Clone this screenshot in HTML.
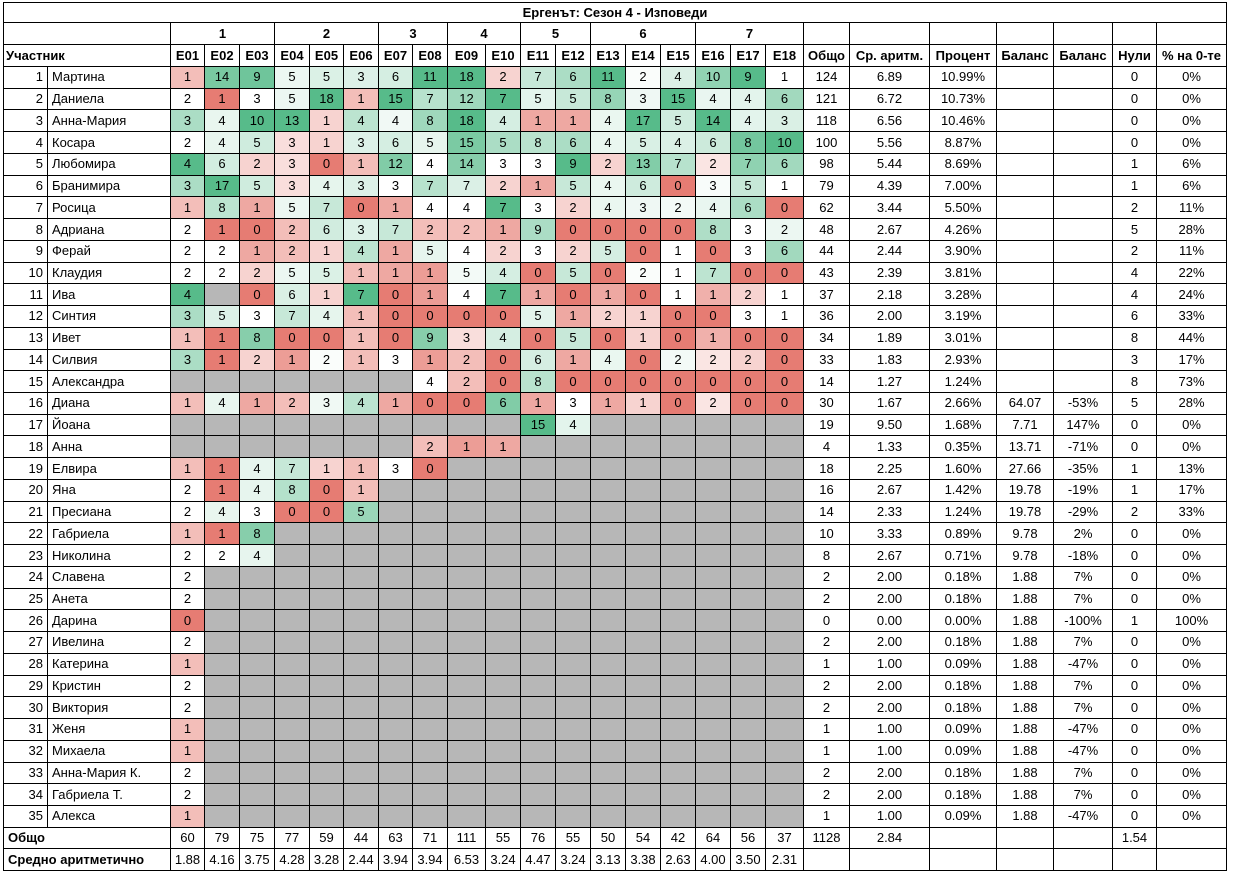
<!DOCTYPE html>
<html><head><meta charset="utf-8"><style>
body{margin:0;background:#fff;width:1235px;height:876px;overflow:hidden}
table{position:absolute;left:3px;top:2px;border-collapse:collapse;table-layout:fixed;font-family:"Liberation Sans",Arial,sans-serif;font-size:13px;color:#000}
td{border:1px solid #000;padding:0;text-align:center;white-space:nowrap;overflow:hidden;line-height:14px}
tr{height:21.74px}
.h td{font-weight:bold}
.g{background:#b7b7b7}
td.n{text-align:right;padding-right:4px;border-right:1px solid #000}
td.nm{text-align:left;padding-left:4px}
td.l{text-align:left;padding-left:4px;font-weight:bold}
</style></head><body>
<table>
<colgroup><col style="width:44px"><col style="width:123px"><col style="width:34px"><col style="width:35px"><col style="width:35px"><col style="width:35px"><col style="width:34px"><col style="width:35px"><col style="width:34px"><col style="width:35px"><col style="width:38px"><col style="width:35px"><col style="width:35px"><col style="width:35px"><col style="width:35px"><col style="width:35px"><col style="width:35px"><col style="width:35px"><col style="width:35px"><col style="width:38px"><col style="width:46px"><col style="width:80px"><col style="width:67px"><col style="width:57px"><col style="width:59px"><col style="width:44px"><col style="width:70px"></colgroup>
<tr class="h" style="height:20px"><td colspan="27">Ергенът: Сезон 4 - Изповеди</td></tr>
<tr class="h" style="height:22px"><td colspan="2"></td><td colspan="3">1</td><td colspan="3">2</td><td colspan="2">3</td><td colspan="2">4</td><td colspan="2">5</td><td colspan="3">6</td><td colspan="3">7</td><td></td><td></td><td></td><td></td><td></td><td></td><td></td></tr>
<tr class="h" style="height:22px"><td colspan="2" style="text-align:left;padding-left:2px">Участник</td><td>E01</td><td>E02</td><td>E03</td><td>E04</td><td>E05</td><td>E06</td><td>E07</td><td>E08</td><td>E09</td><td>E10</td><td>E11</td><td>E12</td><td>E13</td><td>E14</td><td>E15</td><td>E16</td><td>E17</td><td>E18</td><td>Общо</td><td>Ср. аритм.</td><td>Процент</td><td>Баланс</td><td>Баланс</td><td>Нули</td><td>% на 0-те</td></tr>
<tr class="d"><td class="n">1</td><td class="nm">Мартина</td><td>1</td><td>14</td><td>9</td><td>5</td><td>5</td><td>3</td><td>6</td><td>11</td><td>18</td><td>2</td><td>7</td><td>6</td><td>11</td><td>2</td><td>4</td><td>10</td><td>9</td><td>1</td><td>124</td><td>6.89</td><td>10.99%</td><td></td><td></td><td>0</td><td>0%</td></tr>
<tr class="d"><td class="n">2</td><td class="nm">Даниела</td><td>2</td><td>1</td><td>3</td><td>5</td><td>18</td><td>1</td><td>15</td><td>7</td><td>12</td><td>7</td><td>5</td><td>5</td><td>8</td><td>3</td><td>15</td><td>4</td><td>4</td><td>6</td><td>121</td><td>6.72</td><td>10.73%</td><td></td><td></td><td>0</td><td>0%</td></tr>
<tr class="d"><td class="n">3</td><td class="nm">Анна-Мария</td><td>3</td><td>4</td><td>10</td><td>13</td><td>1</td><td>4</td><td>4</td><td>8</td><td>18</td><td>4</td><td>1</td><td>1</td><td>4</td><td>17</td><td>5</td><td>14</td><td>4</td><td>3</td><td>118</td><td>6.56</td><td>10.46%</td><td></td><td></td><td>0</td><td>0%</td></tr>
<tr class="d"><td class="n">4</td><td class="nm">Косара</td><td>2</td><td>4</td><td>5</td><td>3</td><td>1</td><td>3</td><td>6</td><td>5</td><td>15</td><td>5</td><td>8</td><td>6</td><td>4</td><td>5</td><td>4</td><td>6</td><td>8</td><td>10</td><td>100</td><td>5.56</td><td>8.87%</td><td></td><td></td><td>0</td><td>0%</td></tr>
<tr class="d"><td class="n">5</td><td class="nm">Любомира</td><td>4</td><td>6</td><td>2</td><td>3</td><td>0</td><td>1</td><td>12</td><td>4</td><td>14</td><td>3</td><td>3</td><td>9</td><td>2</td><td>13</td><td>7</td><td>2</td><td>7</td><td>6</td><td>98</td><td>5.44</td><td>8.69%</td><td></td><td></td><td>1</td><td>6%</td></tr>
<tr class="d"><td class="n">6</td><td class="nm">Бранимира</td><td>3</td><td>17</td><td>5</td><td>3</td><td>4</td><td>3</td><td>3</td><td>7</td><td>7</td><td>2</td><td>1</td><td>5</td><td>4</td><td>6</td><td>0</td><td>3</td><td>5</td><td>1</td><td>79</td><td>4.39</td><td>7.00%</td><td></td><td></td><td>1</td><td>6%</td></tr>
<tr class="d"><td class="n">7</td><td class="nm">Росица</td><td>1</td><td>8</td><td>1</td><td>5</td><td>7</td><td>0</td><td>1</td><td>4</td><td>4</td><td>7</td><td>3</td><td>2</td><td>4</td><td>3</td><td>2</td><td>4</td><td>6</td><td>0</td><td>62</td><td>3.44</td><td>5.50%</td><td></td><td></td><td>2</td><td>11%</td></tr>
<tr class="d"><td class="n">8</td><td class="nm">Адриана</td><td>2</td><td>1</td><td>0</td><td>2</td><td>6</td><td>3</td><td>7</td><td>2</td><td>2</td><td>1</td><td>9</td><td>0</td><td>0</td><td>0</td><td>0</td><td>8</td><td>3</td><td>2</td><td>48</td><td>2.67</td><td>4.26%</td><td></td><td></td><td>5</td><td>28%</td></tr>
<tr class="d"><td class="n">9</td><td class="nm">Ферай</td><td>2</td><td>2</td><td>1</td><td>2</td><td>1</td><td>4</td><td>1</td><td>5</td><td>4</td><td>2</td><td>3</td><td>2</td><td>5</td><td>0</td><td>1</td><td>0</td><td>3</td><td>6</td><td>44</td><td>2.44</td><td>3.90%</td><td></td><td></td><td>2</td><td>11%</td></tr>
<tr class="d"><td class="n">10</td><td class="nm">Клаудия</td><td>2</td><td>2</td><td>2</td><td>5</td><td>5</td><td>1</td><td>1</td><td>1</td><td>5</td><td>4</td><td>0</td><td>5</td><td>0</td><td>2</td><td>1</td><td>7</td><td>0</td><td>0</td><td>43</td><td>2.39</td><td>3.81%</td><td></td><td></td><td>4</td><td>22%</td></tr>
<tr class="d"><td class="n">11</td><td class="nm">Ива</td><td>4</td><td class="g"></td><td>0</td><td>6</td><td>1</td><td>7</td><td>0</td><td>1</td><td>4</td><td>7</td><td>1</td><td>0</td><td>1</td><td>0</td><td>1</td><td>1</td><td>2</td><td>1</td><td>37</td><td>2.18</td><td>3.28%</td><td></td><td></td><td>4</td><td>24%</td></tr>
<tr class="d"><td class="n">12</td><td class="nm">Синтия</td><td>3</td><td>5</td><td>3</td><td>7</td><td>4</td><td>1</td><td>0</td><td>0</td><td>0</td><td>0</td><td>5</td><td>1</td><td>2</td><td>1</td><td>0</td><td>0</td><td>3</td><td>1</td><td>36</td><td>2.00</td><td>3.19%</td><td></td><td></td><td>6</td><td>33%</td></tr>
<tr class="d"><td class="n">13</td><td class="nm">Ивет</td><td>1</td><td>1</td><td>8</td><td>0</td><td>0</td><td>1</td><td>0</td><td>9</td><td>3</td><td>4</td><td>0</td><td>5</td><td>0</td><td>1</td><td>0</td><td>1</td><td>0</td><td>0</td><td>34</td><td>1.89</td><td>3.01%</td><td></td><td></td><td>8</td><td>44%</td></tr>
<tr class="d"><td class="n">14</td><td class="nm">Силвия</td><td>3</td><td>1</td><td>2</td><td>1</td><td>2</td><td>1</td><td>3</td><td>1</td><td>2</td><td>0</td><td>6</td><td>1</td><td>4</td><td>0</td><td>2</td><td>2</td><td>2</td><td>0</td><td>33</td><td>1.83</td><td>2.93%</td><td></td><td></td><td>3</td><td>17%</td></tr>
<tr class="d"><td class="n">15</td><td class="nm">Александра</td><td class="g"></td><td class="g"></td><td class="g"></td><td class="g"></td><td class="g"></td><td class="g"></td><td class="g"></td><td>4</td><td>2</td><td>0</td><td>8</td><td>0</td><td>0</td><td>0</td><td>0</td><td>0</td><td>0</td><td>0</td><td>14</td><td>1.27</td><td>1.24%</td><td></td><td></td><td>8</td><td>73%</td></tr>
<tr class="d"><td class="n">16</td><td class="nm">Диана</td><td>1</td><td>4</td><td>1</td><td>2</td><td>3</td><td>4</td><td>1</td><td>0</td><td>0</td><td>6</td><td>1</td><td>3</td><td>1</td><td>1</td><td>0</td><td>2</td><td>0</td><td>0</td><td>30</td><td>1.67</td><td>2.66%</td><td>64.07</td><td>-53%</td><td>5</td><td>28%</td></tr>
<tr class="d"><td class="n">17</td><td class="nm">Йоана</td><td class="g"></td><td class="g"></td><td class="g"></td><td class="g"></td><td class="g"></td><td class="g"></td><td class="g"></td><td class="g"></td><td class="g"></td><td class="g"></td><td>15</td><td>4</td><td class="g"></td><td class="g"></td><td class="g"></td><td class="g"></td><td class="g"></td><td class="g"></td><td>19</td><td>9.50</td><td>1.68%</td><td>7.71</td><td>147%</td><td>0</td><td>0%</td></tr>
<tr class="d"><td class="n">18</td><td class="nm">Анна</td><td class="g"></td><td class="g"></td><td class="g"></td><td class="g"></td><td class="g"></td><td class="g"></td><td class="g"></td><td>2</td><td>1</td><td>1</td><td class="g"></td><td class="g"></td><td class="g"></td><td class="g"></td><td class="g"></td><td class="g"></td><td class="g"></td><td class="g"></td><td>4</td><td>1.33</td><td>0.35%</td><td>13.71</td><td>-71%</td><td>0</td><td>0%</td></tr>
<tr class="d"><td class="n">19</td><td class="nm">Елвира</td><td>1</td><td>1</td><td>4</td><td>7</td><td>1</td><td>1</td><td>3</td><td>0</td><td class="g"></td><td class="g"></td><td class="g"></td><td class="g"></td><td class="g"></td><td class="g"></td><td class="g"></td><td class="g"></td><td class="g"></td><td class="g"></td><td>18</td><td>2.25</td><td>1.60%</td><td>27.66</td><td>-35%</td><td>1</td><td>13%</td></tr>
<tr class="d"><td class="n">20</td><td class="nm">Яна</td><td>2</td><td>1</td><td>4</td><td>8</td><td>0</td><td>1</td><td class="g"></td><td class="g"></td><td class="g"></td><td class="g"></td><td class="g"></td><td class="g"></td><td class="g"></td><td class="g"></td><td class="g"></td><td class="g"></td><td class="g"></td><td class="g"></td><td>16</td><td>2.67</td><td>1.42%</td><td>19.78</td><td>-19%</td><td>1</td><td>17%</td></tr>
<tr class="d"><td class="n">21</td><td class="nm">Пресиана</td><td>2</td><td>4</td><td>3</td><td>0</td><td>0</td><td>5</td><td class="g"></td><td class="g"></td><td class="g"></td><td class="g"></td><td class="g"></td><td class="g"></td><td class="g"></td><td class="g"></td><td class="g"></td><td class="g"></td><td class="g"></td><td class="g"></td><td>14</td><td>2.33</td><td>1.24%</td><td>19.78</td><td>-29%</td><td>2</td><td>33%</td></tr>
<tr class="d"><td class="n">22</td><td class="nm">Габриела</td><td>1</td><td>1</td><td>8</td><td class="g"></td><td class="g"></td><td class="g"></td><td class="g"></td><td class="g"></td><td class="g"></td><td class="g"></td><td class="g"></td><td class="g"></td><td class="g"></td><td class="g"></td><td class="g"></td><td class="g"></td><td class="g"></td><td class="g"></td><td>10</td><td>3.33</td><td>0.89%</td><td>9.78</td><td>2%</td><td>0</td><td>0%</td></tr>
<tr class="d"><td class="n">23</td><td class="nm">Николина</td><td>2</td><td>2</td><td>4</td><td class="g"></td><td class="g"></td><td class="g"></td><td class="g"></td><td class="g"></td><td class="g"></td><td class="g"></td><td class="g"></td><td class="g"></td><td class="g"></td><td class="g"></td><td class="g"></td><td class="g"></td><td class="g"></td><td class="g"></td><td>8</td><td>2.67</td><td>0.71%</td><td>9.78</td><td>-18%</td><td>0</td><td>0%</td></tr>
<tr class="d s"><td class="n">24</td><td class="nm">Славена</td><td>2</td><td>2</td><td>2.00</td><td>0.18%</td><td>1.88</td><td>7%</td><td>0</td><td>0%</td></tr>
<tr class="d s"><td class="n">25</td><td class="nm">Анета</td><td>2</td><td>2</td><td>2.00</td><td>0.18%</td><td>1.88</td><td>7%</td><td>0</td><td>0%</td></tr>
<tr class="d s"><td class="n">26</td><td class="nm">Дарина</td><td>0</td><td>0</td><td>0.00</td><td>0.00%</td><td>1.88</td><td>-100%</td><td>1</td><td>100%</td></tr>
<tr class="d s"><td class="n">27</td><td class="nm">Ивелина</td><td>2</td><td>2</td><td>2.00</td><td>0.18%</td><td>1.88</td><td>7%</td><td>0</td><td>0%</td></tr>
<tr class="d s"><td class="n">28</td><td class="nm">Катерина</td><td>1</td><td>1</td><td>1.00</td><td>0.09%</td><td>1.88</td><td>-47%</td><td>0</td><td>0%</td></tr>
<tr class="d s"><td class="n">29</td><td class="nm">Кристин</td><td>2</td><td>2</td><td>2.00</td><td>0.18%</td><td>1.88</td><td>7%</td><td>0</td><td>0%</td></tr>
<tr class="d s"><td class="n">30</td><td class="nm">Виктория</td><td>2</td><td>2</td><td>2.00</td><td>0.18%</td><td>1.88</td><td>7%</td><td>0</td><td>0%</td></tr>
<tr class="d s"><td class="n">31</td><td class="nm">Женя</td><td>1</td><td>1</td><td>1.00</td><td>0.09%</td><td>1.88</td><td>-47%</td><td>0</td><td>0%</td></tr>
<tr class="d s"><td class="n">32</td><td class="nm">Михаела</td><td>1</td><td>1</td><td>1.00</td><td>0.09%</td><td>1.88</td><td>-47%</td><td>0</td><td>0%</td></tr>
<tr class="d s"><td class="n">33</td><td class="nm">Анна-Мария К.</td><td>2</td><td>2</td><td>2.00</td><td>0.18%</td><td>1.88</td><td>7%</td><td>0</td><td>0%</td></tr>
<tr class="d s"><td class="n">34</td><td class="nm">Габриела Т.</td><td>2</td><td>2</td><td>2.00</td><td>0.18%</td><td>1.88</td><td>7%</td><td>0</td><td>0%</td></tr>
<tr class="d s"><td class="n">35</td><td class="nm">Алекса</td><td>1</td><td>1</td><td>1.00</td><td>0.09%</td><td>1.88</td><td>-47%</td><td>0</td><td>0%</td></tr>
<tr><td colspan="2" class="l">Общо</td><td>60</td><td>79</td><td>75</td><td>77</td><td>59</td><td>44</td><td>63</td><td>71</td><td>111</td><td>55</td><td>76</td><td>55</td><td>50</td><td>54</td><td>42</td><td>64</td><td>56</td><td>37</td><td>1128</td><td>2.84</td><td></td><td></td><td></td><td>1.54</td><td></td></tr>
<tr><td colspan="2" class="l">Средно аритметично</td><td>1.88</td><td>4.16</td><td>3.75</td><td>4.28</td><td>3.28</td><td>2.44</td><td>3.94</td><td>3.94</td><td>6.53</td><td>3.24</td><td>4.47</td><td>3.24</td><td>3.13</td><td>3.38</td><td>2.63</td><td>4.00</td><td>3.50</td><td>2.31</td><td></td><td></td><td></td><td></td><td></td><td></td><td></td></tr>
</table>
<script>
// expand short rows (only E01 filled): insert 17 gray cells after E01
document.querySelectorAll('tr.s').forEach(function(tr){
  var e1=tr.children[2];
  for(var i=0;i<17;i++){var t=document.createElement('td');t.className='g';e1.after(t);}
});
var rows=[].slice.call(document.querySelectorAll('tr.d'));
function mix(a,b,t){return 'rgb('+a.map(function(v,i){return Math.round(v+(b[i]-v)*t)}).join(',')+')';}
var R=[230,124,115],W=[255,255,255],G=[87,187,138];
for(var c=2;c<20;c++){
  var cells=[],vals=[];
  rows.forEach(function(tr){var td=tr.children[c];if(td&&!td.classList.contains('g')&&td.textContent!==''){cells.push(td);vals.push(+td.textContent);}});
  var s=vals.slice().sort(function(a,b){return a-b});
  var n=s.length,mn=s[0],mx=s[n-1];
  var p=(n-1)*0.5,lo=Math.floor(p),md=s[lo]+(s[Math.min(lo+1,n-1)]-s[lo])*(p-lo);
  cells.forEach(function(td,i){var v=vals[i],col;
    if(v<=md){col=md>mn?mix(R,W,(v-mn)/(md-mn)):'#fff';}
    else{col=mx>md?mix(W,G,(v-md)/(mx-md)):'#fff';}
    td.style.background=col;});
}
</script>
</body></html>
